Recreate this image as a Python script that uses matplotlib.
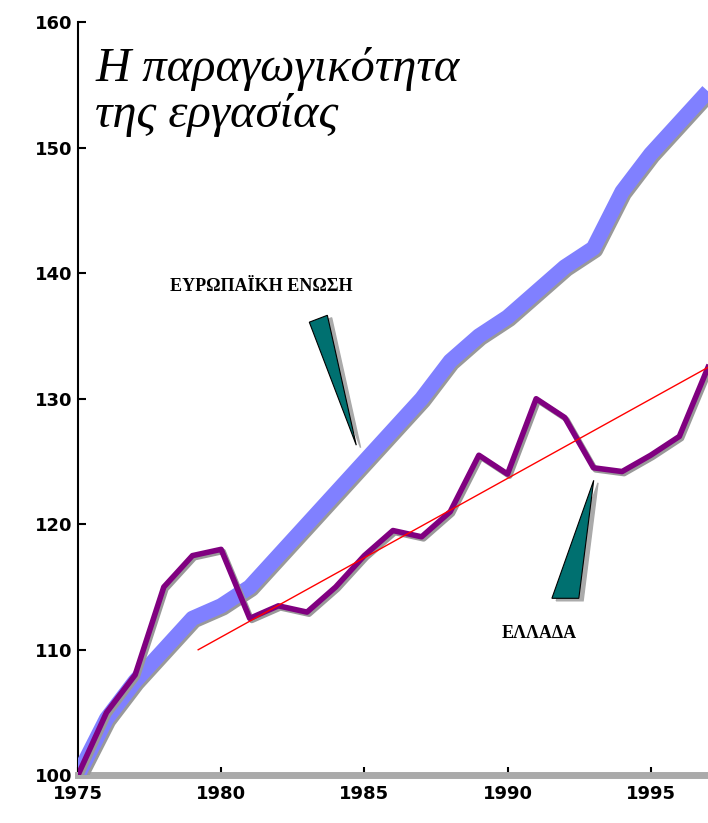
import matplotlib.pyplot as plt
import matplotlib.patheffects as pe
from matplotlib.patches import Polygon

years = list(range(1975, 1998))
eu = [100, 104.5, 107.5, 110, 112.5, 113.5, 115, 117.5, 120, 122.5, 125, 127.5,
      130, 133, 135, 136.5, 138.5, 140.5, 142, 146.5, 149.5, 152, 154.5]
greece = [100, 105, 108, 115, 117.5, 118, 112.5, 113.5, 113, 115, 117.5, 119.5,
          119, 121, 125.5, 124, 130, 128.5, 124.5, 124.2, 125.5, 127, 132.5]
trend_x = [1979.2, 1997]
trend_y = [110, 132.5]

fig = plt.figure(figsize=(7.08, 8.23), dpi=100)
ax = fig.add_axes([0.110, 0.058, 0.89, 0.915])

shadow = [pe.SimpleLineShadow(offset=(1.5, -1.5), shadow_color='#999999', alpha=1), pe.Normal()]
ax.plot(years, eu, color='#8080ff', lw=11, solid_capstyle='butt', path_effects=shadow, zorder=3)
ax.plot(years, greece, color='#800080', lw=4, path_effects=shadow, zorder=4)
ax.plot(trend_x, trend_y, color='red', lw=1, zorder=5)

# callout wedges
for pts in ([(1983.08, 136.1), (1983.71, 136.65), (1984.72, 126.3)],
            [(1991.55, 114.1), (1992.49, 114.1), (1993.01, 123.5)]):
    sh = [(x + 0.15, y - 0.2) for x, y in pts]
    ax.add_patch(Polygon(sh, closed=True, color='#aaaaaa', zorder=6))
    ax.add_patch(Polygon(pts, closed=True, facecolor='#007070', edgecolor='black', lw=0.8, zorder=7))

ax.text(1978.2, 138.6, 'ΕΥΡΩΠΑΪΚΗ ΕΝΩΣΗ', family='Liberation Serif', fontweight='bold',
        fontsize=13, zorder=8)
ax.text(1989.8, 110.9, 'ΕΛΛΑΔΑ', family='Liberation Serif', fontweight='bold',
        fontsize=13, zorder=8)
ax.text(1975.6, 158, 'Η παραγωγικότητα\nτης εργασίας', family='Liberation Serif',
        style='italic', fontsize=35, va='top', linespacing=1.05, zorder=8)

ax.set_xlim(1975, 1997)
ax.set_ylim(100, 160)
ax.set_xticks(range(1975, 2000, 5))
ax.set_yticks(range(100, 170, 10))
for lab in ax.get_xticklabels() + ax.get_yticklabels():
    lab.set_fontweight('bold')
    lab.set_fontsize(13)
ax.spines['top'].set_visible(False)
ax.spines['right'].set_visible(False)
ax.spines['bottom'].set_color('#aaaaaa')
ax.spines['bottom'].set_linewidth(5)
ax.spines['left'].set_linewidth(1.5)
ax.tick_params(direction='in', length=6, width=1.5, pad=4)
ax.tick_params(axis='x', pad=7)

fig.savefig('out.png')
